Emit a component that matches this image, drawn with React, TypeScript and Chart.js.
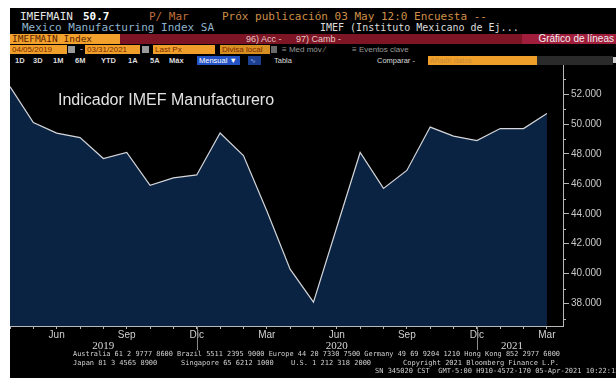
import React, { useEffect, useRef } from "react";
import { Chart, registerables } from "chart.js";

Chart.register(...registerables);

// ---- data ----
const months = [
  "2019-04", "2019-05", "2019-06", "2019-07", "2019-08", "2019-09", "2019-10", "2019-11", "2019-12",
  "2020-01", "2020-02", "2020-03", "2020-04", "2020-05", "2020-06", "2020-07", "2020-08", "2020-09",
  "2020-10", "2020-11", "2020-12", "2021-01", "2021-02", "2021-03",
];
const imefValues = [
  52.5, 50.1, 49.4, 49.1, 47.7, 48.1, 45.9, 46.4, 46.6,
  49.4, 47.9, 44.2, 40.3, 38.1, 43.1, 48.1, 45.7, 46.9,
  49.8, 49.2, 48.9, 49.7, 49.7, 50.7,
];
const monthNames = ["Ene", "Feb", "Mar", "Abr", "May", "Jun", "Jul", "Ago", "Sep", "Oct", "Nov", "Dic"];
const labeledMonths = ["Mar", "Jun", "Sep", "Dic"];
const yMajorTicks = [38, 40, 42, 44, 46, 48, 50, 52];
const yMinorTicks = [37, 39, 41, 43, 45, 47, 49, 51, 53];
const chartTitle = "Indicador IMEF Manufacturero";
const footerLine1 =
  "Australia 61 2 9777 8600 Brazil 5511 2395 9000 Europe 44 20 7330 7500 Germany 49 69 9204 1210 Hong Kong 852 2977 6000";
const footerLine2 = ["Japan 81 3 4565 8900", "Singapore 65 6212 1000", "U.S. 1 212 318 2000", "Copyright 2021 Bloomberg Finance L.P."];
const footerLine3 = "SN 345020 CST  GMT-5:00 H910-4572-170 05-Apr-2021 10:22:12";

const MONO = "'DejaVu Sans Mono', 'Liberation Mono', monospace";
const SANS = "'Liberation Sans', Arial, sans-serif";

const overlayPlugin = {
  id: "overlay",
  afterDraw(chart: any) {
    const { ctx, chartArea: a, scales } = chart;
    const xs = scales.x;
    const ys = scales.y;
    ctx.save();
    // title
    ctx.font = `16px ${SANS}`;
    ctx.fillStyle = "#e2e2e2";
    ctx.textAlign = "left";
    ctx.textBaseline = "alphabetic";
    ctx.fillText(chartTitle, 48, 40);

    // minor y ticks
    ctx.strokeStyle = "#b8b8b8";
    ctx.lineWidth = 1;
    yMinorTicks.forEach((v) => {
      const py = Math.round(ys.getPixelForValue(v)) + 0.5;
      ctx.beginPath();
      ctx.moveTo(a.right, py);
      ctx.lineTo(a.right + 3, py);
      ctx.stroke();
    });

    // years + separators
    const years = Array.from(new Set(months.map((m) => m.slice(0, 4))));
    ctx.font = `11px 'Liberation Serif', serif`;
    ctx.fillStyle = "#d6d6d6";
    ctx.textAlign = "center";
    ctx.textBaseline = "middle";
    years.forEach((yr, k) => {
      const idx = months.map((m, i) => (m.startsWith(yr) ? i : -1)).filter((i) => i >= 0);
      const start = Math.max(idx[0] - 1, xs.min);
      const end = Math.min(idx[idx.length - 1], xs.max);
      const cx = xs.getPixelForValue((start + end) / 2);
      ctx.fillText(yr, cx, 281);
      if (k < years.length - 1) {
        const sx = Math.round(xs.getPixelForValue(idx[idx.length - 1])) + 0.5;
        ctx.strokeStyle = "#8a8a8a";
        ctx.beginPath();
        ctx.moveTo(sx, a.bottom);
        ctx.lineTo(sx, 285);
        ctx.stroke();
      }
    });

    // footer
    ctx.font = `7px ${MONO}`;
    ctx.fillStyle = "#d0d0d0";
    ctx.textAlign = "left";
    ctx.textBaseline = "middle";
    ctx.fillText(footerLine1, 63, 289, 487);
    const l2x = [63, 171, 281, 393];
    footerLine2.forEach((t, i) => ctx.fillText(t, l2x[i], 298));
    ctx.fillText(footerLine3, 365, 306, 245);
    ctx.restore();
  },
};

function Txt(props: { l: number; t: number; c?: string; f?: string; s?: number; b?: boolean; children: any }) {
  return (
    <span
      style={{
        position: "absolute",
        left: props.l,
        top: props.t,
        color: props.c || "#e0e0e0",
        fontFamily: props.f || MONO,
        fontSize: props.s || 11,
        fontWeight: props.b ? "bold" : "normal",
        lineHeight: "11px",
        whiteSpace: "pre",
      }}
    >
      {props.children}
    </span>
  );
}

function Box(props: { l: number; t: number; w: number; h: number; bg: string; children?: any; c?: string; s?: number; f?: string }) {
  return (
    <div
      style={{
        position: "absolute",
        left: props.l,
        top: props.t,
        width: props.w,
        height: props.h,
        background: props.bg,
        color: props.c || "#7a2a00",
        fontFamily: props.f || SANS,
        fontSize: props.s || 8,
        lineHeight: props.h + "px",
        whiteSpace: "pre",
        overflow: "hidden",
        paddingLeft: 2,
        boxSizing: "border-box",
      }}
    >
      {props.children}
    </div>
  );
}

export default function App() {
  const ref = useRef<HTMLCanvasElement>(null);
  useEffect(() => {
    if (!ref.current) return;
    const chart = new Chart(ref.current, {
      type: "line",
      data: {
        datasets: [
          {
            data: imefValues.map((v, i) => ({ x: i, y: v })),
            borderColor: "#d4d6da",
            borderWidth: 1.2,
            backgroundColor: "#0b2342",
            fill: "start",
            pointRadius: 0,
            tension: 0,
          },
        ],
      },
      options: {
        responsive: false,
        animation: false,
        devicePixelRatio: 1,
        layout: { padding: 0 },
        plugins: { legend: { display: false }, tooltip: { enabled: false }, title: { display: false } },
        scales: {
          x: {
            type: "linear",
            min: 0,
            max: months.length - 1 + 0.69,
            afterBuildTicks: (s: any) => {
              s.ticks = months.map((_, i) => ({ value: i }));
            },
            afterFit: (s: any) => {
              s.height = 52;
              s.paddingLeft = 0;
              s.paddingRight = 0;
            },
            ticks: {
              autoSkip: false,
              maxRotation: 0,
              color: "#d0d0d0",
              font: { family: SANS, size: 10 },
              padding: 0,
              callback: (v: any) => {
                const m = months[Math.round(v)];
                if (!m) return "";
                const name = monthNames[parseInt(m.slice(5, 7), 10) - 1];
                return labeledMonths.includes(name) ? name : "";
              },
            },
            grid: { drawOnChartArea: false, tickLength: 3, tickColor: "#b8b8b8", color: "#b8b8b8" },
            border: { display: true, color: "#b8b8b8", width: 1 },
          },
          y: {
            type: "linear",
            position: "right",
            min: 36.5,
            max: 53.95,
            afterBuildTicks: (s: any) => {
              s.ticks = yMajorTicks.map((v) => ({ value: v }));
            },
            afterFit: (s: any) => {
              s.width = 53;
              s.paddingTop = 0;
              s.paddingBottom = 0;
            },
            ticks: {
              color: "#c8c8c8",
              font: { family: SANS, size: 10 },
              padding: 2,
              callback: (v: any) => Number(v).toFixed(3),
            },
            grid: { drawOnChartArea: false, tickLength: 6, tickColor: "#b8b8b8", color: "#b8b8b8" },
            border: { display: true, color: "#b8b8b8", width: 1 },
          },
        },
      },
      plugins: [overlayPlugin],
    } as any);
    return () => chart.destroy();
  }, []);

  return (
    <div
      style={{
        position: "absolute",
        left: 10,
        top: 8,
        width: 606,
        height: 370,
        background: "#000",
        overflow: "hidden",
      }}
    >
      {/* row 1 */}
      <Txt l={10} t={3} c="#e6e6e6">IMEFMAIN</Txt>
      <Txt l={73} t={3} c="#ffffff" b>50.7</Txt>
      <Txt l={139} t={3} c="#c0703a">P/ Mar</Txt>
      <Txt l={212} t={3} c="#cf8f48">Próx publicación 03 May 12:0 Encuesta --</Txt>
      {/* row 2 */}
      <Txt l={12} t={14} c="#8fb4cc">Mexico Manufacturing Index SA</Txt>
      <Txt l={310} t={14} c="#dcdcdc" s={10}>IMEF (Instituto Mexicano de Ej...</Txt>
      {/* row 3 red bar */}
      <div style={{ position: "absolute", left: 0, top: 26, width: 606, height: 10, background: "#7e1524" }} />
      <Box l={0} t={26} w={110} h={10} bg="#f2a12c" c="#5a2200" f={MONO} s={9.5}>IMEFMAIN Index</Box>
      <Txt l={236} t={26} c="#e8c8c8" f={SANS} s={9}>96) Acc -</Txt>
      <Txt l={286} t={26} c="#e8c8c8" f={SANS} s={9}>97) Camb -</Txt>
      <div
        style={{
          position: "absolute",
          left: 512,
          top: 26,
          width: 94,
          height: 10,
          background: "#a11d3c",
          color: "#f0f0f0",
          fontFamily: SANS,
          fontSize: 10,
          lineHeight: "10px",
          textAlign: "right",
          paddingRight: 2,
          boxSizing: "border-box",
        }}
      >
        Gráfico de líneas
      </div>
      {/* row 4 */}
      <Box l={0} t={37} w={57} h={9} bg="#f0a02a">04/05/2019</Box>
      <Box l={58} t={38} w={7} h={7} bg="#9a9a9a" />
      <Txt l={70} t={36} c="#cccccc" f={SANS} s={9}>-</Txt>
      <Box l={75} t={37} w={55} h={9} bg="#f0a02a">03/31/2021</Box>
      <Box l={132} t={38} w={7} h={7} bg="#9a9a9a" />
      <Box l={143} t={37} w={62} h={9} bg="#f0a02a">Last Px</Box>
      <Box l={210} t={37} w={50} h={9} bg="#d88f22">Divisa local</Box>
      <Box l={261} t={38} w={6} h={7} bg="#6a6a6a" />
      <Txt l={272} t={36} c="#9a9a9a" f={SANS} s={8}>{"\u2261 Med móv \u2215"}</Txt>
      <Txt l={342} t={36} c="#9a9a9a" f={SANS} s={8}>{"\u2261 Eventos clave"}</Txt>
      {/* row 5 */}
      {[
        ["1D", 5],
        ["3D", 23],
        ["1M", 43],
        ["6M", 65],
        ["YTD", 91],
        ["1A", 118],
        ["5A", 140],
        ["Máx", 159],
      ].map(([t, l]) => (
        <Txt key={t as string} l={l as number} t={47} c="#dcdcdc" f={SANS} s={7.5} b>
          {t}
        </Txt>
      ))}
      <Box l={187} t={48} w={43} h={9} bg="#2453c6" c="#ffffff" s={7.5}>{"Mensual \u25BC"}</Box>
      <Box l={238} t={48} w={13} h={9} bg="#1d3f8f" c="#8fb0ff" s={7}>{"\u223F"}</Box>
      <Txt l={264} t={47} c="#dcdcdc" f={SANS} s={7.5}>Tabla</Txt>
      <Txt l={367} t={47} c="#dcdcdc" f={SANS} s={7.5}>Comparar -</Txt>
      <Box l={418} t={48} w={109} h={9} bg="#f0a02a" c="#c98a3a" s={7.5}>Añadir datos</Box>
      <div style={{ position: "absolute", left: 527, top: 48, width: 76, height: 9, background: "#2a2a2a" }} />
      <div style={{ position: "absolute", left: 603, top: 49, width: 3, height: 6, background: "#d0d0d0" }} />

      <canvas
        ref={ref}
        width={606}
        height={313}
        style={{ position: "absolute", left: 0, top: 57, width: 606, height: 313 }}
      />
    </div>
  );
}
